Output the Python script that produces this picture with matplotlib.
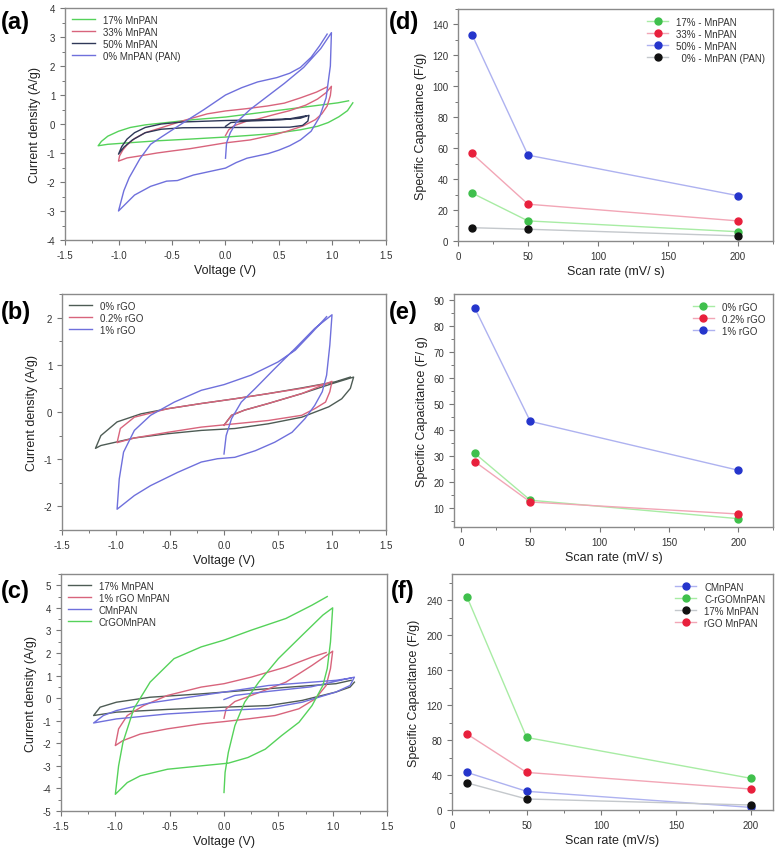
import matplotlib
matplotlib.use("Agg")
import matplotlib.pyplot as plt
from matplotlib.ticker import MultipleLocator

plt.rcParams['font.family'] = ['Liberation Sans', 'DejaVu Sans']
plt.rcParams['axes.unicode_minus'] = False

# ---------------- CV data (voltage V, current density A/g) ----------------
# (a) MnPAN loadings
a_17 = [(1.19, 0.73), (1.14, 0.46), (1.06, 0.25), (0.96, 0.05), (0.86, -0.08), (0.7, -0.2),
        (0.45, -0.33), (0.2, -0.4), (0.0, -0.45), (-0.33, -0.52), (-0.64, -0.58), (-0.95, -0.66),
        (-1.1, -0.7), (-1.19, -0.75), (-1.16, -0.6), (-1.1, -0.42), (-1.0, -0.25), (-0.89, -0.12),
        (-0.75, -0.03), (-0.55, 0.05), (-0.3, 0.15), (0.0, 0.24), (0.3, 0.38), (0.6, 0.52),
        (0.9, 0.66), (1.05, 0.73), (1.15, 0.8)]
a_33 = [(0.0, -0.4), (0.03, -0.2), (0.08, -0.06), (0.2, 0.1), (0.3, 0.17), (0.45, 0.32),
        (0.6, 0.46), (0.75, 0.65), (0.86, 0.86), (0.94, 1.08), (0.99, 1.3), (0.98, 0.98),
        (0.95, 0.62), (0.9, 0.35), (0.84, 0.15), (0.73, -0.06), (0.6, -0.22), (0.48, -0.35),
        (0.23, -0.55), (0.0, -0.65), (-0.33, -0.85), (-0.5, -0.93), (-0.64, -1.0), (-0.8, -1.1),
        (-0.92, -1.17), (-1.0, -1.28), (-0.99, -1.1), (-0.96, -0.9), (-0.92, -0.72), (-0.85, -0.5),
        (-0.75, -0.3), (-0.61, -0.14), (-0.39, 0.12), (-0.17, 0.35), (0.0, 0.45), (0.2, 0.53),
        (0.39, 0.62), (0.55, 0.72), (0.7, 0.9), (0.85, 1.1), (0.95, 1.28)]
a_50 = [(0.0, -0.08), (0.05, 0.05), (0.2, 0.1), (0.5, 0.14), (0.7, 0.2), (0.78, 0.3),
        (0.77, 0.1), (0.72, -0.05), (0.6, -0.11), (0.3, -0.12), (0.0, -0.12), (-0.4, -0.13),
        (-0.6, -0.18), (-0.75, -0.3), (-0.87, -0.55), (-0.95, -0.8), (-1.0, -1.04), (-0.97, -0.78),
        (-0.92, -0.52), (-0.85, -0.3), (-0.75, -0.12), (-0.6, 0.0), (-0.4, 0.07), (0.0, 0.12),
        (0.4, 0.15), (0.6, 0.18), (0.75, 0.28)]
a_0 = [(0.0, -1.18), (0.01, -0.65), (0.045, -0.3), (0.1, 0.05), (0.23, 0.5), (0.39, 0.95),
       (0.55, 1.4), (0.73, 1.95), (0.89, 2.6), (0.99, 3.15), (0.98, 2.0), (0.94, 0.9),
       (0.88, 0.25), (0.8, -0.25), (0.7, -0.55), (0.6, -0.75), (0.5, -0.9), (0.4, -1.02),
       (0.2, -1.18), (0.1, -1.33), (0.0, -1.52), (-0.1, -1.6), (-0.3, -1.76), (-0.45, -1.95),
       (-0.55, -1.97), (-0.7, -2.15), (-0.85, -2.45), (-1.0, -3.0), (-0.95, -2.3), (-0.9, -1.85),
       (-0.8, -1.2), (-0.7, -0.7), (-0.6, -0.45), (-0.4, 0.03), (-0.2, 0.5), (0.0, 1.0),
       (0.15, 1.25), (0.3, 1.45), (0.48, 1.6), (0.6, 1.75), (0.7, 1.95), (0.8, 2.3),
       (0.88, 2.7), (0.95, 3.1)]

# (b) rGO loadings
b_0 = [(0.0, -0.28), (0.07, -0.07), (0.19, 0.04), (0.41, 0.18), (0.72, 0.39), (1.0, 0.6),
       (1.2, 0.74), (1.17, 0.5), (1.09, 0.28), (0.97, 0.11), (0.72, -0.11), (0.41, -0.25),
       (0.1, -0.35), (-0.21, -0.39), (-0.52, -0.46), (-0.83, -0.55), (-1.14, -0.71), (-1.19, -0.77),
       (-1.14, -0.5), (-0.99, -0.21), (-0.77, -0.04), (-0.52, 0.07), (-0.21, 0.18), (0.1, 0.28),
       (0.41, 0.39), (0.72, 0.51), (1.03, 0.64), (1.17, 0.74)]
b_02 = [(0.0, -0.28), (0.07, -0.07), (0.19, 0.04), (0.41, 0.18), (0.72, 0.39), (1.0, 0.65),
        (0.98, 0.43), (0.94, 0.21), (0.84, 0.07), (0.72, -0.07), (0.41, -0.18), (0.1, -0.25),
        (-0.21, -0.32), (-0.52, -0.43), (-0.83, -0.55), (-0.99, -0.65), (-0.96, -0.35),
        (-0.83, -0.11), (-0.52, 0.07), (-0.21, 0.18), (0.1, 0.28), (0.41, 0.39), (0.72, 0.5),
        (0.95, 0.6)]
b_1 = [(0.0, -0.89), (0.02, -0.5), (0.07, -0.14), (0.16, 0.21), (0.29, 0.5), (0.47, 0.92),
       (0.66, 1.35), (0.84, 1.77), (1.0, 2.06), (0.98, 1.42), (0.95, 0.78), (0.91, 0.43),
       (0.84, 0.14), (0.75, -0.14), (0.63, -0.43), (0.47, -0.64), (0.29, -0.82), (0.1, -0.96),
       (-0.06, -0.99), (-0.21, -1.06), (-0.43, -1.28), (-0.68, -1.56), (-0.83, -1.77),
       (-0.99, -2.06), (-0.97, -1.42), (-0.93, -0.85), (-0.83, -0.39), (-0.68, -0.07),
       (-0.46, 0.21), (-0.21, 0.46), (0.0, 0.58), (0.25, 0.78), (0.5, 1.06), (0.66, 1.31),
       (0.81, 1.67), (0.95, 2.02)]

# (c) composites
c_17 = [(1.2, 0.71), (1.16, 0.49), (1.03, 0.27), (0.72, -0.1), (0.41, -0.33), (0.0, -0.4),
        (-0.52, -0.5), (-0.99, -0.62), (-1.2, -0.77), (-1.14, -0.4), (-0.99, -0.18),
        (-0.68, 0.04), (-0.21, 0.19), (0.41, 0.42), (1.03, 0.64), (1.17, 0.79)]
c_rgo = [(0.0, -0.89), (0.02, -0.47), (0.1, -0.15), (0.29, 0.19), (0.57, 0.71), (0.81, 1.45),
         (1.0, 2.08), (0.98, 1.31), (0.94, 0.56), (0.84, -0.03), (0.69, -0.47), (0.47, -0.77),
         (0.22, -0.92), (0.0, -1.04), (-0.21, -1.14), (-0.52, -1.36), (-0.77, -1.59),
         (-0.93, -1.88), (-1.0, -2.1), (-0.97, -1.36), (-0.89, -0.77), (-0.74, -0.33),
         (-0.52, 0.12), (-0.21, 0.49), (0.0, 0.64), (0.25, 0.93), (0.57, 1.38), (0.81, 1.82),
         (0.94, 2.02)]
c_c = [(0.0, -0.06), (0.1, 0.12), (0.41, 0.3), (0.8, 0.5), (1.2, 0.93), (1.16, 0.56),
       (1.03, 0.27), (0.72, -0.18), (0.41, -0.45), (0.0, -0.55), (-0.52, -0.7), (-0.99, -0.92),
       (-1.2, -1.1), (-1.11, -0.77), (-0.99, -0.55), (-0.68, -0.21), (-0.21, 0.12), (0.41, 0.56),
       (1.03, 0.79), (1.17, 0.89)]
c_crgo = [(0.0, -4.18), (0.01, -3.29), (0.04, -2.4), (0.1, -1.22), (0.19, -0.18), (0.32, 0.71),
          (0.5, 1.75), (0.72, 2.79), (0.91, 3.68), (1.0, 4.0), (0.98, 2.49), (0.95, 1.31),
          (0.91, 0.56), (0.81, -0.33), (0.69, -1.07), (0.53, -1.66), (0.38, -2.26), (0.22, -2.63),
          (0.04, -2.88), (-0.21, -3.0), (-0.52, -3.15), (-0.77, -3.44), (-0.89, -3.74),
          (-1.0, -4.26), (-0.97, -3.0), (-0.93, -1.96), (-0.83, -0.47), (-0.68, 0.71),
          (-0.46, 1.75), (-0.21, 2.27), (0.0, 2.57), (0.25, 3.01), (0.57, 3.53), (0.81, 4.12),
          (0.95, 4.5)]

# ---------------- specific capacitance data ----------------
scan_rate = [10, 50, 200]
d_17 = [31, 13, 6]
d_33 = [56.6, 23.8, 13]
d_50 = [133.5, 55.5, 29.3]
d_0 = [8.6, 7.6, 3.3]
e_0 = [31.1, 13.1, 6]
e_02 = [27.9, 12.4, 7.8]
e_1 = [86.9, 43.4, 24.6]
f_c = [43, 21.4, 3]
f_crgo = [244, 83, 36.3]
f_17 = [31, 12.6, 5.7]
f_rgo = [87, 43, 24]

GREEN, PINK, BLUE, DARK, GREY = '#55d25a', '#d8647c', '#6f70dc', '#2f3858', '#4e5c55'
W, H = 776, 853
fig = plt.figure(figsize=(W / 100, H / 100), dpi=100)


def make_axes(left, right, top, bottom):
    ax = fig.add_axes([left / W, 1 - bottom / H, (right - left) / W, (bottom - top) / H])
    for s in ax.spines.values():
        s.set_color('#8a8a8a')
        s.set_linewidth(1.0)
    ax.tick_params(which='both', direction='out', colors='#777777', labelcolor='#333333',
                   labelsize=7, top=False, right=False)
    ax.tick_params(which='major', length=3.5, width=0.8)
    ax.tick_params(which='minor', length=2, width=0.7)
    return ax


def cv_panel(ax, curves, ylim, ymaj):
    for pts, col, lab in curves:
        ax.plot([p[0] for p in pts], [p[1] for p in pts], color=col, lw=1.0, label=lab)
    ax.set_xlim(-1.5, 1.5)
    ax.set_ylim(*ylim)
    ax.xaxis.set_major_locator(MultipleLocator(0.5))
    ax.xaxis.set_minor_locator(MultipleLocator(0.25))
    ax.yaxis.set_major_locator(MultipleLocator(ymaj))
    ax.yaxis.set_minor_locator(MultipleLocator(ymaj / 2))
    ax.set_xlabel('Voltage (V)', fontsize=9, color='#222222', labelpad=3)
    ax.set_ylabel('Current density (A/g)', fontsize=9, color='#222222')
    ax.legend(loc='upper left', frameon=False, fontsize=7, handlelength=2.4,
              labelspacing=0.2, borderaxespad=0.3, labelcolor='#333333')


def cap_panel(ax, series, xlim, ylim, ymaj, xlabel, ylabel):
    for vals, lc, mc, lab in series:
        ax.plot(scan_rate, vals, color=lc, lw=1.0, marker='o', ms=5, mfc=mc, mec=mc, label=lab)
    ax.set_xlim(*xlim)
    ax.set_ylim(*ylim)
    ax.xaxis.set_major_locator(MultipleLocator(50))
    ax.xaxis.set_minor_locator(MultipleLocator(25))
    ax.yaxis.set_major_locator(MultipleLocator(ymaj))
    ax.yaxis.set_minor_locator(MultipleLocator(ymaj / 2))
    ax.set_xlabel(xlabel, fontsize=9, color='#222222', labelpad=3)
    ax.set_ylabel(ylabel, fontsize=9, color='#222222')
    ax.legend(loc='upper right', frameon=False, fontsize=7, handlelength=2.2,
              labelspacing=0.2, borderaxespad=0.4, labelcolor='#333333')


LG, LR, LB, LK = '#a8eca4', '#f2a6b6', '#aeb2f0', '#c4c8cc'
MG, MR, MB, MK = '#3fc04c', '#e8203c', '#2535cc', '#111111'

ax = make_axes(65, 386, 9, 241)
cv_panel(ax, [(a_17, GREEN, '17% MnPAN'), (a_33, PINK, '33% MnPAN'),
              (a_50, DARK, '50% MnPAN'), (a_0, BLUE, '0% MnPAN (PAN)')], (-4, 4), 1)

ax = make_axes(458, 773, 10, 242)
cap_panel(ax, [(d_17, LG, MG, '17% - MnPAN'), (d_33, LR, MR, '33% - MnPAN'),
               (d_50, LB, MB, '50% - MnPAN'), (d_0, LK, MK, '  0% - MnPAN (PAN)')],
          (0, 225), (0, 150), 20, 'Scan rate (mV/ s)', 'Specific Capacitance (F/g)')

ax = make_axes(62, 386, 295, 531)
cv_panel(ax, [(b_0, GREY, '0% rGO'), (b_02, PINK, '0.2% rGO'), (b_1, BLUE, '1% rGO')],
         (-2.5, 2.5), 1)

ax = make_axes(454, 773, 295, 528)
cap_panel(ax, [(e_0, LG, MG, '0% rGO'), (e_02, LR, MR, '0.2% rGO'), (e_1, LB, MB, '1% rGO')],
          (-5, 225), (2.8, 92.3), 10, 'Scan rate (mV/ s)', 'Specific Capacitance (F/ g)')

ax = make_axes(61, 387, 575, 812)
cv_panel(ax, [(c_17, GREY, '17% MnPAN'), (c_rgo, PINK, '1% rGO MnPAN'),
              (c_c, BLUE, 'CMnPAN'), (c_crgo, GREEN, 'CrGOMnPAN')], (-5, 5.5), 1)

ax = make_axes(452, 773, 575, 811)
cap_panel(ax, [(f_c, LB, MB, 'CMnPAN'), (f_crgo, LG, MG, 'C-rGOMnPAN'),
               (f_17, LK, MK, '17% MnPAN'), (f_rgo, LR, MR, 'rGO MnPAN')],
          (0, 215), (0, 270), 40, 'Scan rate (mV/s)', 'Specific Capacitance (F/g)')

for lab, x, y in [('(a)', 1, 22), ('(d)', 389, 22), ('(b)', 1, 313),
                  ('(e)', 389, 313), ('(c)', 1, 592), ('(f)', 391, 592)]:
    fig.text(x / W, 1 - y / H, lab, fontsize=17, fontweight='bold', va='center', ha='left')

fig.savefig('out.png', dpi=100)
